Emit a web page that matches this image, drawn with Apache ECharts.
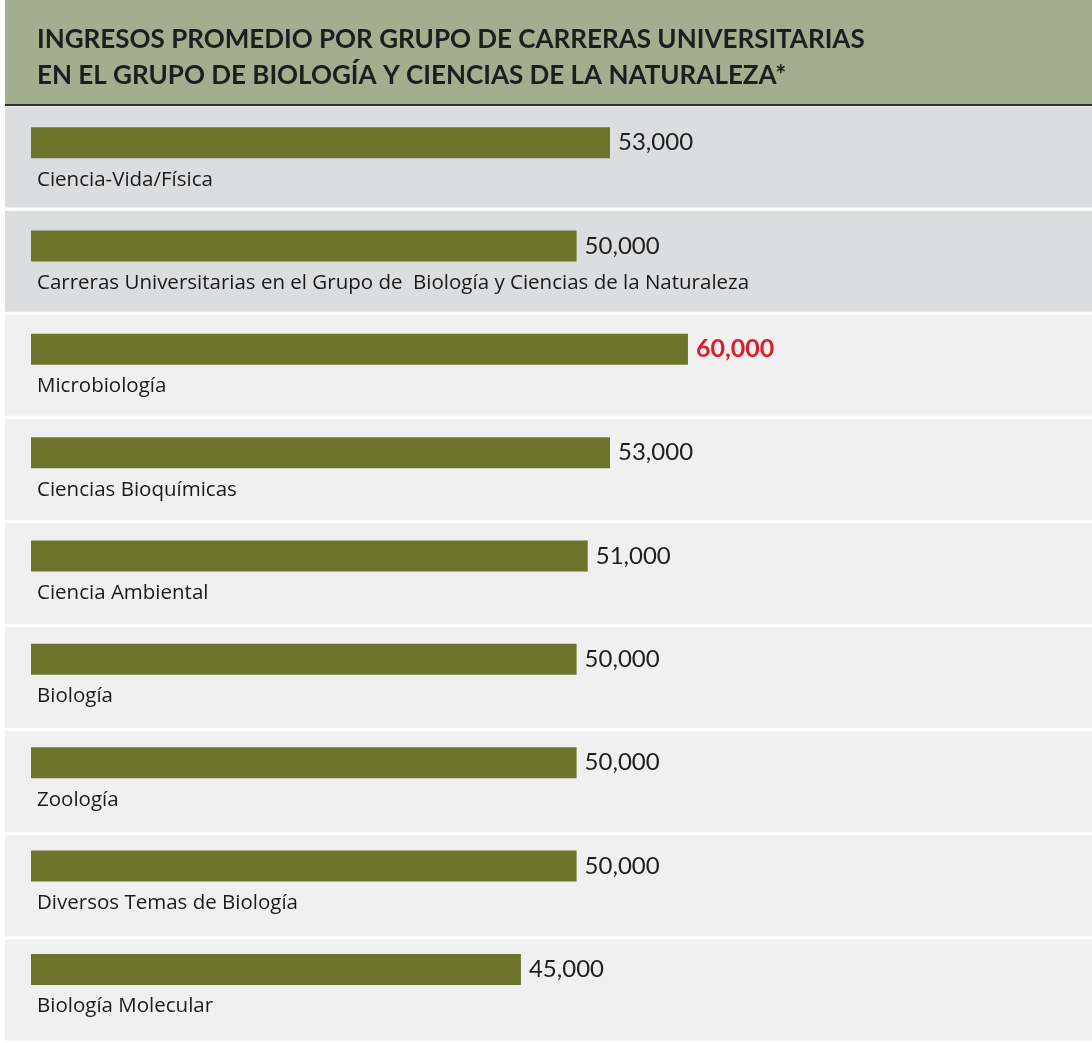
<!DOCTYPE html>
<html><head><meta charset="utf-8">
<script src="https://cdn.jsdelivr.net/npm/echarts@6/dist/echarts.min.js"></script>
<style>html,body{margin:0;padding:0;background:#fff}#c{width:1092px;height:1043px}</style>
</head><body><div id="c"></div>
<script>
const titleLines = ['INGRESOS PROMEDIO POR GRUPO DE CARRERAS UNIVERSITARIAS', 'EN EL GRUPO DE BIOLOGÍA Y CIENCIAS DE LA NATURALEZA*'];
const categories = ['Ciencia-Vida/Física', 'Carreras Universitarias en el Grupo de  Biología y Ciencias de la Naturaleza', 'Microbiología', 'Ciencias Bioquímicas', 'Ciencia Ambiental', 'Biología', 'Zoología', 'Diversos Temas de Biología', 'Biología Molecular'];
const incomes = [53000, 50000, 60000, 53000, 51000, 50000, 50000, 50000, 45000];
const summaryRows = 2;

const maxVal = Math.max(...incomes);
const fmt = v => v.toLocaleString('en-US');

const chart = echarts.init(document.getElementById('c'));
chart.setOption({
  animation: false,
  backgroundColor: '#ffffff',
  title: {
    text: titleLines.join('\n'),
    left: 32, top: 17,
    textStyle: { fontFamily: 'Lato', fontWeight: 'bold', fontSize: 26, lineHeight: 36, color: '#1e1e1e' }
  },
  graphic: [
    { type: 'rect', z: -10, shape: { x: 5, y: 0, width: 1087, height: 104 }, style: { fill: '#a3ae8f' } },
    { type: 'rect', z: -9, shape: { x: 5, y: 104, width: 1087, height: 2 }, style: { fill: '#2e2e2a' } }
  ],
  grid: [
    { left: 5, right: 0, top: 105, height: 937 },
    { left: 31, right: 70, top: 91, height: 937 }
  ],
  xAxis: [
    { gridIndex: 0, type: 'value', min: 0, max: 1, show: false },
    { gridIndex: 1, type: 'value', min: 1000, max: 90000, show: false }
  ],
  yAxis: [
    { gridIndex: 0, type: 'category', inverse: true, data: categories, show: false },
    { gridIndex: 1, type: 'category', inverse: true, data: categories, z: 10,
      axisLine: { show: false }, axisTick: { show: false }, splitLine: { show: false },
      axisLabel: { inside: true, interval: 0, margin: 6, align: 'left', verticalAlign: 'middle',
        formatter: v => '\n' + v, lineHeight: 74,
        fontFamily: 'Open Sans', fontSize: 20.5, color: '#1a1a1a' } }
  ],
  series: [
    { type: 'bar', xAxisIndex: 0, yAxisIndex: 0, barWidth: 101, silent: true, z: 1,
      data: categories.map(() => 1),
      itemStyle: { color: p => p.dataIndex < summaryRows ? '#dcdddf' : '#f0f0f0' } },
    { type: 'bar', xAxisIndex: 1, yAxisIndex: 1, barWidth: 31, z: 3,
      data: incomes.map(v => ({
        value: v,
        label: v === maxVal ? { color: '#d7202c', fontWeight: 'bold', fontSize: 25 } : {}
      })),
      itemStyle: { color: '#6b742a' },
      label: { show: true, position: 'right', distance: 8, formatter: p => fmt(p.value),
        fontFamily: 'Lato', fontSize: 24, color: '#1e1e1e' } }
  ]
});
</script></body></html>
